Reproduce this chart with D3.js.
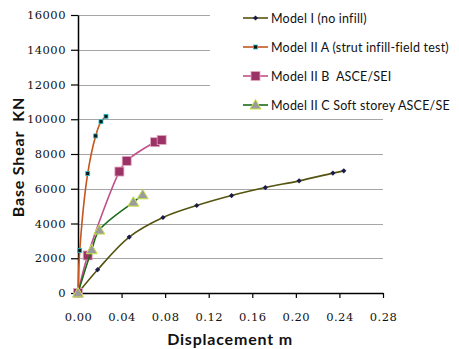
<!DOCTYPE html>
<html>
<head>
<meta charset="utf-8">
<script src="https://cdnjs.cloudflare.com/ajax/libs/d3/7.8.5/d3.min.js"></script>
<style>
  body { margin: 0; background: #fff; }
  .tick text { font-family: "DejaVu Serif", serif; font-size: 11.5px; letter-spacing: 0.5px; fill: #111; }
  .legend text { font-family: Lato, "Open Sans", sans-serif; font-size: 12.5px; letter-spacing: 0.2px; fill: #111; white-space: pre; }
  .title { font-family: Lato, "Open Sans", sans-serif; font-size: 16px; font-weight: bold; letter-spacing: 0.8px; fill: #111; white-space: pre; }
</style>
</head>
<body>
<div id="chart"></div>
<script>
// values (displacement m, base shear kN)
const seriesNames = [
  "Model I (no infill)",
  "Model II A (strut infill-field test)",
  "Model II B  ASCE/SEI",
  "Model II C Soft storey ASCE/SE"
];
const modelI_x = [0, 0.018, 0.047, 0.078, 0.109, 0.141, 0.172, 0.203, 0.234, 0.244];
const modelI_y = [0, 1340, 3220, 4345, 5035, 5610, 6070, 6455, 6900, 7030];
const modelIIA_x = [0, 0.0016, 0.0089, 0.0162, 0.0211, 0.0257];
const modelIIA_y = [0, 2450, 6875, 9040, 9860, 10170];
const modelIIB_x = [0, 0.0089, 0.038, 0.0447, 0.0707, 0.0768];
const modelIIB_y = [0, 2160, 6990, 7605, 8680, 8810];
const modelIIC_x = [0, 0.0126, 0.0196, 0.0508, 0.0594];
const modelIIC_y = [0, 2490, 3620, 5230, 5650];
const xTicks = [0, 0.04, 0.08, 0.12, 0.16, 0.20, 0.24, 0.28];
const yTicks = [0, 2000, 4000, 6000, 8000, 10000, 12000, 14000, 16000];

const width = 459;
const height = 349;
const margin = { left: 78, right: 76, top: 15, bottom: 56 };

const svg = d3.select("#chart")
              .append("svg")
              .attr("width", width)
              .attr("height", height);

const x = d3.scaleLinear().domain([0, 0.28]).range([margin.left, width - margin.right]);
const y = d3.scaleLinear().domain([0, 16000]).range([height - margin.bottom, margin.top]);

// grid
svg.append("g")
   .selectAll("line")
   .data(yTicks.slice(1))
   .enter()
   .append("line")
   .attr("x1", x(0))
   .attr("x2", x(0.28))
   .attr("y1", d => Math.round(y(d)) + 0.5)
   .attr("y2", d => Math.round(y(d)) + 0.5)
   .attr("stroke", "#a6a6a6")
   .attr("stroke-width", 1);

// axes
const xAxis = svg.append("g")
   .attr("transform", `translate(0, ${y(0)})`)
   .call(d3.axisBottom(x).tickValues(xTicks).tickFormat(d3.format(".2f")).tickSize(5).tickSizeOuter(0).tickPadding(15));
const yAxis = svg.append("g")
   .attr("transform", `translate(${x(0)}, 0)`)
   .call(d3.axisLeft(y).tickValues(yTicks).tickFormat(d => d).tickSize(7).tickSizeOuter(0).tickPadding(5));
[xAxis, yAxis].forEach(a => {
  a.select(".domain").attr("stroke", "#000").attr("stroke-width", 1.5);
  a.selectAll(".tick line").attr("stroke", "#000").attr("stroke-width", 1.2);
});

// legend background hides the grid top right
svg.append("rect")
   .attr("x", 210).attr("y", 0)
   .attr("width", width - 210).attr("height", 113)
   .attr("fill", "#fff");

const series = [
  { name: seriesNames[0], xs: modelI_x, ys: modelI_y, line: "#545410", marker: "diamond" },
  { name: seriesNames[1], xs: modelIIA_x, ys: modelIIA_y, line: "#c4561e", marker: "dot" },
  { name: seriesNames[2], xs: modelIIB_x, ys: modelIIB_y, line: "#c2508a", marker: "square" },
  { name: seriesNames[3], xs: modelIIC_x, ys: modelIIC_y, line: "#1d6b1d", marker: "triangle" }
];

const line = d3.line()
               .x(d => x(d[0]))
               .y(d => y(d[1]))
               .curve(d3.curveCatmullRom.alpha(0.5));

function drawMarker(g, kind, cx, cy){
  if(kind === "diamond"){
    g.append("path")
     .attr("d", `M${cx},${cy - 2.6}L${cx + 2.6},${cy}L${cx},${cy + 2.6}L${cx - 2.6},${cy}Z`)
     .attr("fill", "#1b1b4a");
  }
  else if(kind === "dot"){
    g.append("rect")
     .attr("x", cx - 2).attr("y", cy - 2).attr("width", 4).attr("height", 4)
     .attr("fill", "#0a1a1a").attr("stroke", "#2cc4d0").attr("stroke-width", 0.8);
  }
  else if(kind === "square"){
    g.append("rect")
     .attr("x", cx - 4.5).attr("y", cy - 4.5).attr("width", 9).attr("height", 9)
     .attr("fill", "#9a3266").attr("stroke", "#e4a7c4").attr("stroke-width", 0.8);
  }
  else{
    g.append("path")
     .attr("d", `M${cx},${cy - 5.5}L${cx + 5.5},${cy + 4}L${cx - 5.5},${cy + 4}Z`)
     .attr("fill", "#9b9b9b").attr("stroke", "#c6e44a").attr("stroke-width", 1);
  }
}

series.forEach(s => {
  const pts = s.xs.map((v, i) => [v, s.ys[i]]);
  svg.append("path")
     .datum(pts)
     .attr("d", line)
     .attr("fill", "none")
     .attr("stroke", s.line)
     .attr("stroke-width", 1.6);
  const g = svg.append("g");
  pts.forEach(p => drawMarker(g, s.marker, x(p[0]), y(p[1])));
});

// legend
const legend = svg.append("g").attr("class", "legend");
series.forEach((s, i) => {
  const ly = 18 + i * 29;
  legend.append("line")
        .attr("x1", 243).attr("x2", 268)
        .attr("y1", ly).attr("y2", ly)
        .attr("stroke", s.line).attr("stroke-width", 1.6);
  drawMarker(legend, s.marker, 255.5, ly);
  legend.append("text")
        .attr("x", 271).attr("y", ly + 4.5)
        .text(s.name);
});

// axis titles
svg.append("text")
   .attr("class", "title")
   .attr("x", 230).attr("y", 345)
   .attr("text-anchor", "middle")
   .text("Displacement m");
svg.append("text")
   .attr("class", "title")
   .attr("transform", "translate(24, 157) rotate(-90)")
   .attr("text-anchor", "middle")
   .text("Base Shear  KN");
</script>
</body>
</html>
